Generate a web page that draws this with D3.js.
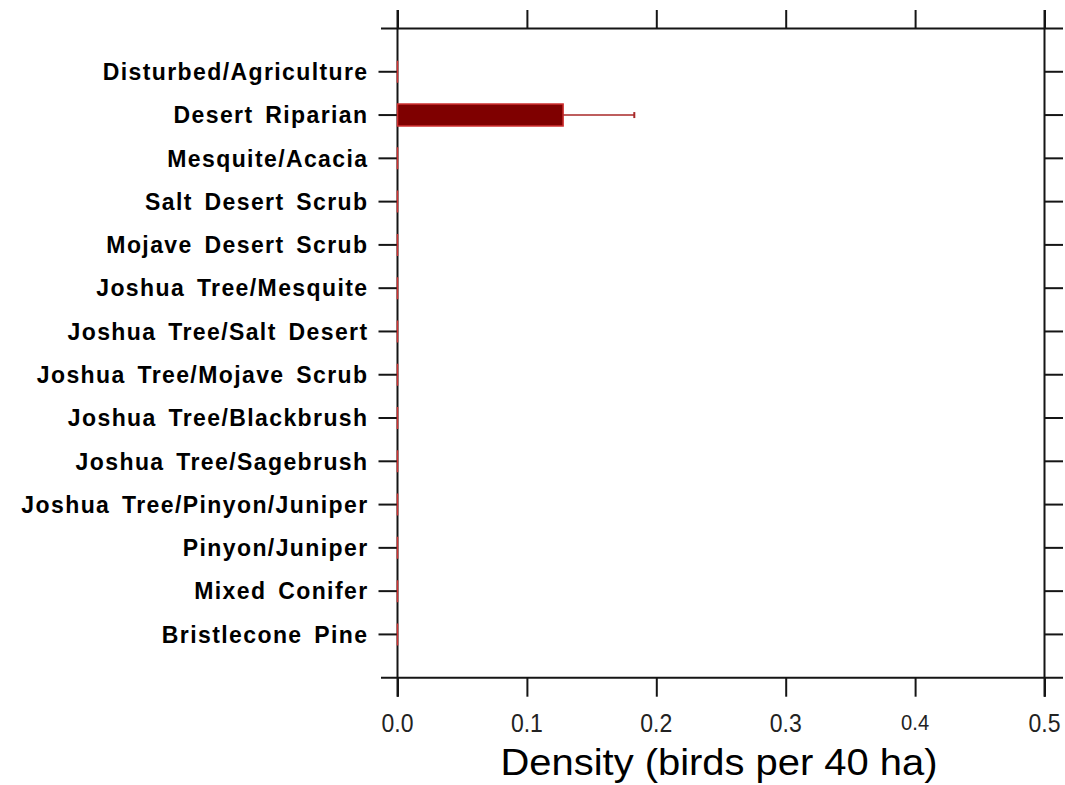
<!DOCTYPE html>
<html>
<head>
<meta charset="utf-8">
<script src="https://cdn.jsdelivr.net/npm/d3@7/dist/d3.min.js"></script>
<style>
  html, body { margin: 0; padding: 0; background: #fff; }
  svg { display: block; }
</style>
</head>
<body>
<svg id="chart" width="1065" height="785"></svg>
<script>
const categories = [
  "Disturbed/Agriculture",
  "Desert Riparian",
  "Mesquite/Acacia",
  "Salt Desert Scrub",
  "Mojave Desert Scrub",
  "Joshua Tree/Mesquite",
  "Joshua Tree/Salt Desert",
  "Joshua Tree/Mojave Scrub",
  "Joshua Tree/Blackbrush",
  "Joshua Tree/Sagebrush",
  "Joshua Tree/Pinyon/Juniper",
  "Pinyon/Juniper",
  "Mixed Conifer",
  "Bristlecone Pine"
];
const density = [0, 0.128, 0, 0, 0, 0, 0, 0, 0, 0, 0, 0, 0, 0];
const errorUpper = [0, 0.183, 0, 0, 0, 0, 0, 0, 0, 0, 0, 0, 0, 0];
const xTicks = [0, 0.1, 0.2, 0.3, 0.4, 0.5];
const xTickLabels = ["0.0", "0.1", "0.2", "0.3", "0.4", "0.5"];
const xTitle = "Density (birds per 40 ha)";

(function () {
const svg = d3.select("#chart");
const axisColor = "#151515";

const x = d3.scaleLinear().domain([0, 0.5]).range([397.5, 1044.5]);
const yIdx = d3.scaleLinear().domain([0, categories.length + 1]).range([28.5, 677.7]);
const y = (i) => yIdx(i + 1);

const plotTop = yIdx(0), plotBottom = yIdx(categories.length + 1);
const leftX = x(0), rightX = x(0.5);
const tickLen = 18.5;
const lw = 2;

const frame = svg.append("g").attr("stroke", axisColor).attr("stroke-width", lw).attr("fill", "none");
frame.append("line").attr("x1", leftX - tickLen + 2).attr("x2", rightX + tickLen).attr("y1", plotTop).attr("y2", plotTop);
frame.append("line").attr("x1", leftX - tickLen + 2).attr("x2", rightX + tickLen).attr("y1", plotBottom).attr("y2", plotBottom);
frame.append("line").attr("x1", leftX).attr("x2", leftX).attr("y1", plotTop - tickLen).attr("y2", plotBottom + tickLen + 0.5);
frame.append("line").attr("x1", rightX).attr("x2", rightX).attr("y1", plotTop - tickLen).attr("y2", plotBottom + tickLen + 0.5);

const gTop = svg.append("g").attr("transform", `translate(0,${plotTop})`)
  .call(d3.axisTop(x).tickValues(xTicks).tickSize(tickLen).tickFormat(""));
const gBot = svg.append("g").attr("transform", `translate(0,${plotBottom})`)
  .call(d3.axisBottom(x).tickValues(xTicks).tickSize(tickLen + 0.5).tickFormat(""));
[gTop, gBot].forEach(g => {
  g.select(".domain").remove();
  g.selectAll(".tick line").attr("stroke", axisColor).attr("stroke-width", lw);
});

const yT = categories.map((c, i) => i);
svg.append("g").selectAll("line").data(yT).join("line")
  .attr("x1", leftX - tickLen - 0.5).attr("x2", leftX).attr("y1", d => y(d)).attr("y2", d => y(d))
  .attr("stroke", axisColor).attr("stroke-width", lw);
svg.append("g").selectAll("line").data(yT).join("line")
  .attr("x1", rightX).attr("x2", rightX + tickLen).attr("y1", d => y(d)).attr("y2", d => y(d))
  .attr("stroke", axisColor).attr("stroke-width", lw);

svg.append("g").selectAll("text").data(xTicks).join("text")
  .attr("x", d => x(d))
  .attr("y", (d, i) => i === 4 ? 729.5 : 732)
  .attr("text-anchor", "middle")
  .attr("font-family", "Liberation Sans, Arial, sans-serif")
  .attr("font-size", (d, i) => i === 4 ? 22 : 26)
  .attr("textLength", (d, i) => i === 4 ? 28 : 32)
  .attr("lengthAdjust", "spacingAndGlyphs")
  .attr("fill", "#222")
  .text((d, i) => xTickLabels[i]);

svg.append("text")
  .attr("x", (leftX + rightX) / 2 - 2)
  .attr("y", 774.5)
  .attr("text-anchor", "middle")
  .attr("font-family", "Liberation Sans, Arial, sans-serif")
  .attr("font-size", 37)
  .attr("textLength", 437)
  .attr("lengthAdjust", "spacingAndGlyphs")
  .attr("fill", "#000")
  .text(xTitle);

svg.append("g").selectAll("text").data(categories).join("text")
  .attr("x", 368.5)
  .attr("y", (d, i) => y(i) + 8.3)
  .attr("text-anchor", "end")
  .attr("font-family", "Liberation Sans, Arial, sans-serif")
  .attr("font-weight", "bold")
  .attr("font-size", 23)
  .attr("letter-spacing", 1.4)
  .attr("word-spacing", 4)
  .attr("fill", "#000")
  .text(d => d);

const barH = 22;
svg.append("g").selectAll("path").data(density).join("path")
  .attr("d", (d, i) => {
    const x0 = x(0), x1 = x(d), y0 = y(i) - barH / 2, y1 = y(i) + barH / 2;
    return `M${x0},${y0}H${x1}V${y1}H${x0}Z`;
  })
  .attr("fill", "#7f0000")
  .attr("stroke", "#d03232")
  .attr("stroke-width", 1.5);

const eb = svg.append("g").attr("stroke", "#a82828").attr("stroke-width", 1.6);
errorUpper.forEach((e, i) => {
  if (e > density[i]) {
    eb.append("line").attr("x1", x(density[i])).attr("x2", x(e)).attr("y1", y(i)).attr("y2", y(i));
    eb.append("line").attr("x1", x(e)).attr("x2", x(e)).attr("y1", y(i) - 3).attr("y2", y(i) + 3).attr("stroke-width", 2);
  }
});
})();
</script>
</body>
</html>
